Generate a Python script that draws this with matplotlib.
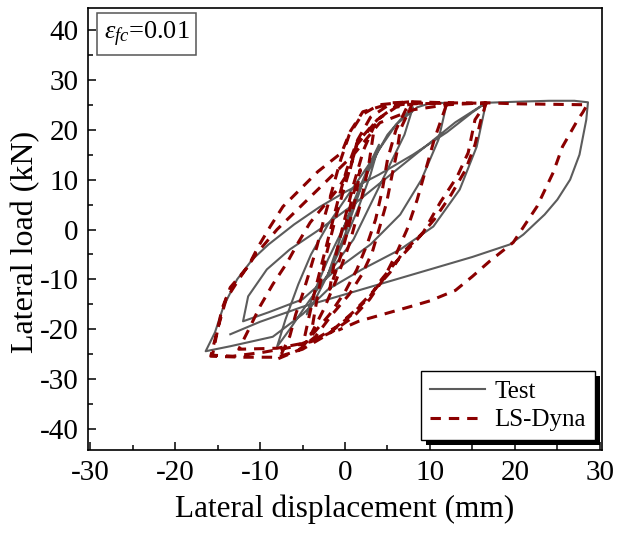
import numpy as np
import matplotlib
matplotlib.use('Agg')
import matplotlib.pyplot as plt
from matplotlib.patches import Rectangle

plt.rcParams['font.family'] = ['Liberation Serif', 'DejaVu Serif']
plt.rcParams['mathtext.fontset'] = 'custom'
plt.rcParams['mathtext.rm'] = 'Liberation Serif'
plt.rcParams['mathtext.it'] = 'Liberation Serif:italic'
plt.rcParams['axes.unicode_minus'] = False

# Test hysteresis (displacement mm, load kN), cycle by cycle
test_c1 = [(0, 0), (1, 5), (2, 9), (1, 4), (0, -1), (-1, -5), (-2, -9), (-1, -4), (0, 1), (1, 5.5), (2, 9.5)]
test_c2 = [(3, 13.5), (4, 17), (3, 11), (1.5, 4), (0, -2), (-2, -9), (-3.5, -14), (-4.5, -17),
           (-3.5, -12), (-2, -6), (0, 1), (2, 9), (4, 16), (5, 19)]
test_c3 = [(6.5, 22), (8, 24.5), (7, 19), (5, 12), (3, 5), (1, -2), (-2, -9), (-4.5, -15), (-6.5, -20),
           (-8, -23.5), (-7, -18), (-5.5, -11), (-4, -5), (-2, 1), (0, 6), (2, 11), (4, 16), (6, 21),
           (8.5, 24.5), (10, 25.3), (12, 25.4)]
test_c4 = [(11, 18), (9, 10), (6.5, 3), (3, -3), (-1, -8), (-5, -14), (-9, -16.6), (-12, -18.4),
           (-11.4, -13.4), (-9.2, -8), (-6.5, -4), (-3, 0), (1, 5), (5, 10.5), (9, 16), (13, 21.5), (16.6, 25.4)]
test_c5 = [(15.5, 16.6), (13.5, 8), (10.4, 0.6), (6.5, -4), (2, -8), (-2, -12), (-5, -17), (-8.5, -21.5),
           (-13.5, -23.4), (-16.4, -24.4), (-15.3, -20.6), (-14.3, -15.4), (-12.7, -10), (-10.9, -6),
           (-9, -3), (-6, 1), (-3, 4.5), (0, 7.5), (4, 11), (8, 15), (12, 19.5), (15, 23.5), (16.6, 25.4)]
test_c6 = [(20, 25.6), (24, 25.8), (27, 25.8), (28.6, 25.5), (28.4, 22), (27.6, 15), (26.5, 10), (25, 6),
           (23.5, 3), (21, -1), (19.4, -3), (15, -5.5), (10, -8), (5, -10.5), (0, -13), (-5, -15.5),
           (-10, -18.5), (-13.5, -21)]

# LS-Dyna hysteresis
dyna_c1 = [(0, 0), (0.8, 6), (1.8, 12), (1.2, 6), (0.2, -1), (-0.8, -7), (-1.8, -12), (-1.2, -6), (-0.2, 1),
           (1, 9), (2.2, 16), (3.5, 21), (2.8, 13), (1.8, 5), (0.5, -3), (-1, -10), (-2.5, -16), (-4, -21),
           (-3.2, -13), (-2.2, -5), (-1, 3), (0.2, 10)]
dyna_c2 = [(1.4, 17), (3.8, 22), (6, 24.8), (8, 25.5), (6.5, 20), (6.1, 15.4), (5.5, 10.6), (4.9, 5.4),
           (4.1, 0.6), (3.2, -4.6), (2, -9), (0.5, -13), (-1.5, -17), (-3.5, -21.5), (-5.5, -24.2), (-8, -26),
           (-7.5, -25), (-6.5, -21.4), (-5.8, -17), (-5, -13), (-4.2, -8.6), (-3.3, -3.4), (-2.5, 2),
           (-1.5, 8), (-0.5, 14), (0.5, 19), (2, 23), (4, 25), (7.6, 25.6)]
dyna_c3 = [(6, 20), (5, 14), (4.4, 8), (3.6, 2), (2.6, -3), (1.4, -8), (0, -12.5), (-1.8, -17), (-3.8, -21),
           (-5, -23.5), (-4.3, -18), (-3.5, -12), (-2.6, -6), (-1.7, 0), (-0.8, 6), (0.2, 12), (1.5, 18),
           (3, 22.5), (5, 24.8), (8, 25.3), (12, 25.3)]
dyna_c4 = [(10.5, 18), (9.5, 12), (8.5, 6), (7.3, 0), (6, -5), (4.5, -10), (2.9, -14), (1, -17.5),
           (-1.5, -20.5), (-4, -22.5), (-8, -23.8), (-12.5, -24), (-11.2, -19.6), (-10, -15.4), (-8.5, -11),
           (-6.8, -6.6), (-5.5, -2.6), (-4.1, 1.4), (-0.9, 8), (0.6, 12), (1.4, 17.4), (3.8, 22), (6, 24.5),
           (8, 25.2), (12, 25.3), (16.6, 25.3)]
dyna_c5 = [(15.3, 22), (14.5, 15.4), (13.2, 10.6), (11.2, 5.4), (9.2, -0.6), (6.8, -4.6), (5.3, -8.6),
           (3, -13), (1, -16.5), (-1, -19.5), (-3, -21.5), (-6, -23.5), (-9.6, -24.6), (-13.2, -25.4),
           (-15.6, -25.2), (-14.5, -16), (-13.5, -11.6), (-11.4, -7.4), (-10.2, -3.4), (-8.8, 0.6),
           (-7.3, 4.6), (-5.3, 8), (-3.2, 11.6), (-0.4, 15.4), (0.6, 19.6), (2.1, 23.6), (5.6, 25.4),
           (8, 25.6), (12, 25.4), (16.6, 25.3)]
dyna_c6 = [(16, 22), (15.3, 17), (14.2, 12), (12.5, 7), (10.5, 2), (8.5, -2), (6, -6.5), (4.3, -10),
           (2.9, -13.5), (0.5, -17.5), (-2, -21), (-5, -24), (-8, -25.6), (-12, -25.6), (-15.8, -25.4),
           (-15, -20), (-14, -14), (-12.5, -10), (-10.5, -5), (-8, 0), (-5, 5), (-2, 10), (1, 15),
           (4.1, 21.4), (8, 24), (12, 25), (16.6, 25.4), (20, 25.2), (24, 25.1), (28.5, 25)]
dyna_c7 = [(28, 23.5), (27.4, 22), (25.6, 16.6), (24.5, 11.4), (22.6, 4.6), (19.8, -2.6), (17, -6.4),
           (15, -9.4), (13, -12.2), (10, -14.3), (7.8, -15.4), (4.9, -16.8), (1.6, -18.4), (-0.8, -20.2)]

test = np.array(test_c1 + test_c2 + test_c3 + test_c4 + test_c5 + test_c6)
dyna = np.array(dyna_c1 + dyna_c2 + dyna_c3 + dyna_c4 + dyna_c5 + dyna_c6 + dyna_c7)

fig = plt.figure(figsize=(6.18, 5.33), dpi=100)
ax = fig.add_axes([0.1424, 0.1557, 0.8317, 0.8293])

ax.plot(test[:, 0], test[:, 1], color='#333333', lw=1.5, alpha=0.8, label='Test')
ax.plot(dyna[:, 0], dyna[:, 1], color='#8b0000', lw=2.2, dashes=(3.4, 2.6), label='LS-Dyna')

ax.set_xlim(-30.25, 30.25)
ax.set_ylim(-44.2, 44.4)
ax.set_xticks(np.arange(-30, 31, 10))
ax.set_xticks(np.arange(-25, 30, 10), minor=True)
ax.set_yticks(np.arange(-40, 41, 10))
ax.set_yticks(np.arange(-35, 40, 10), minor=True)
ax.tick_params(which='both', direction='in', labelsize=21, top=False, right=False, width=1.1)
ax.tick_params(which='major', length=6, pad=7)
ax.tick_params(which='minor', length=3.5)
for s in ax.spines.values():
    s.set_linewidth(1.2)

ax.set_xlabel('Lateral displacement (mm)', fontsize=22.5, labelpad=6)
ax.set_ylabel('Lateral load (kN)', fontsize=23)
ax.yaxis.set_label_coords(-0.093, 0.47)

ax.text(0.031, 0.974, r'$\varepsilon_{fc}$=0.01', transform=ax.transAxes, fontsize=19,
        ha='left', va='top',
        bbox=dict(boxstyle='square,pad=0.25', fc='white', ec='#555555', lw=1.1))

leg = ax.legend(loc='lower right', bbox_to_anchor=(0.986, 0.0226), borderaxespad=0,
                fontsize=18, fancybox=False, edgecolor='black', framealpha=1,
                handlelength=2.2, handletextpad=0.4, borderpad=0.35, labelspacing=0.25)
leg.get_frame().set_linewidth(1.0)

fig.canvas.draw()
bb = leg.get_window_extent().transformed(ax.transAxes.inverted())
dx = 5 / (0.8317 * 618)
dy = 5 / (0.8293 * 533)
ax.add_patch(Rectangle((bb.x0 + dx, bb.y0 - dy), bb.width, bb.height, transform=ax.transAxes,
                       fc='black', ec='none', zorder=4.9, clip_on=False))

fig.savefig('out.png', dpi=100)
